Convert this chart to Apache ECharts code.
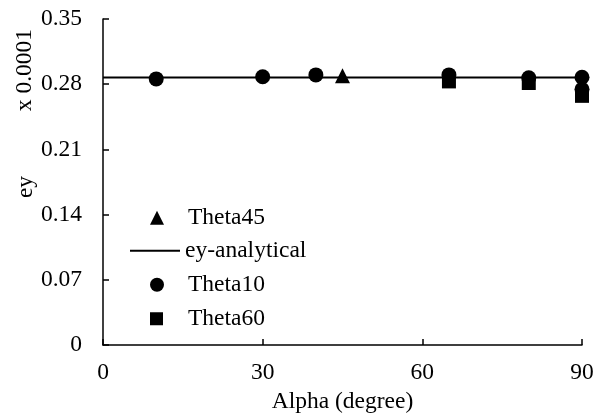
<!DOCTYPE html>
<html>
<head>
<meta charset="utf-8">
<script src="https://cdn.jsdelivr.net/npm/echarts@6/dist/echarts.min.js"></script>
<style>html,body{margin:0;padding:0;background:#fff}#c{width:593px;height:419px}</style>
</head>
<body>
<div id="c"></div>
<script>
const xTicks = [0, 30, 60, 90];
const yTicks = [0, 0.07, 0.14, 0.21, 0.28, 0.35];
const theta45 = [[45, 0.289]];
const analytical = [[0, 0.2872], [90, 0.2872]];
const theta10 = [[10, 0.2857], [30, 0.288], [40, 0.290], [65, 0.290], [80, 0.287], [90, 0.2875], [90, 0.2745]];
const theta60 = [[65, 0.283], [80, 0.2813], [90, 0.2675]];

const font = 'Liberation Serif';
const fs = 23.5;
const txt = { fontFamily: font, fontSize: fs, color: '#000' };
const chart = echarts.init(document.getElementById('c'));
function mk(name, icon, w, h, left, cy, pad) {
  return { orient: 'vertical', left: left - 5, top: cy - 5 - fs / 2 + 1.5, itemWidth: w, itemHeight: h,
    textStyle: Object.assign({ padding: [0, 0, 0, pad] }, txt), itemStyle: { color: '#000', opacity: 1 },
    data: [{ name: name, icon: icon }] };
}
chart.setOption({
  animation: false,
  backgroundColor: '#fff',
  grid: { left: 103, right: 11, top: 19, bottom: 74, outerBoundsMode: 'none', containLabel: false },
  xAxis: {
    type: 'value', min: 0, max: 90, interval: 30,
    name: 'Alpha (degree)', nameLocation: 'middle', nameGap: 37,
    nameTextStyle: txt,
    axisLine: { lineStyle: { color: '#000', width: 1.5 } },
    axisTick: { inside: true, length: 6, lineStyle: { color: '#000', width: 1.5 } },
    axisLabel: Object.assign({ margin: 16 }, txt),
    splitLine: { show: false }
  },
  yAxis: {
    type: 'value', min: 0, max: 0.35, interval: 0.07,
    axisLine: { show: true, lineStyle: { color: '#000', width: 1.5 } },
    axisTick: { show: true, inside: true, length: 6, lineStyle: { color: '#000', width: 1.5 } },
    axisLabel: Object.assign({ margin: 21,
      formatter: v => { const t = yTicks.find(a => Math.abs(a - v) < 1e-9); return t === 0 ? '0' : t.toFixed(2); } }, txt),
    splitLine: { show: false }
  },
  graphic: [
    { type: 'text', rotation: Math.PI / 2, x: 25, y: 70, style: { text: 'x 0.0001', fontFamily: font, fontSize: fs, fill: '#000', align: 'center', verticalAlign: 'middle' } },
    { type: 'text', rotation: Math.PI / 2, x: 26, y: 187, style: { text: 'ey', fontFamily: font, fontSize: fs, fill: '#000', align: 'center', verticalAlign: 'middle' } }
  ],
  legend: [
    mk('Theta45', 'triangle', 14, 14, 150, 216, 19),
    mk('ey-analytical', 'rect', 50, 2, 130, 249, 0),
    mk('Theta10', 'circle', 14, 14, 150, 283, 19),
    mk('Theta60', 'rect', 13, 13, 150, 317, 20)
  ],
  series: [
    { name: 'ey-analytical', type: 'line', data: analytical, symbol: 'none', showSymbol: false, z: 1,
      lineStyle: { color: '#000', width: 2 }, itemStyle: { color: '#000' } },
    { name: 'Theta60', type: 'scatter', data: theta60, symbol: 'rect', symbolSize: 14, z: 2, itemStyle: { color: '#000', opacity: 1 } },
    { name: 'Theta10', type: 'scatter', data: theta10, symbol: 'circle', symbolSize: 15, z: 3, itemStyle: { color: '#000', opacity: 1 } },
    { name: 'Theta45', type: 'scatter', data: theta45, symbol: 'triangle', symbolSize: 15, z: 3, itemStyle: { color: '#000', opacity: 1 } }
  ]
});
</script>
</body>
</html>
